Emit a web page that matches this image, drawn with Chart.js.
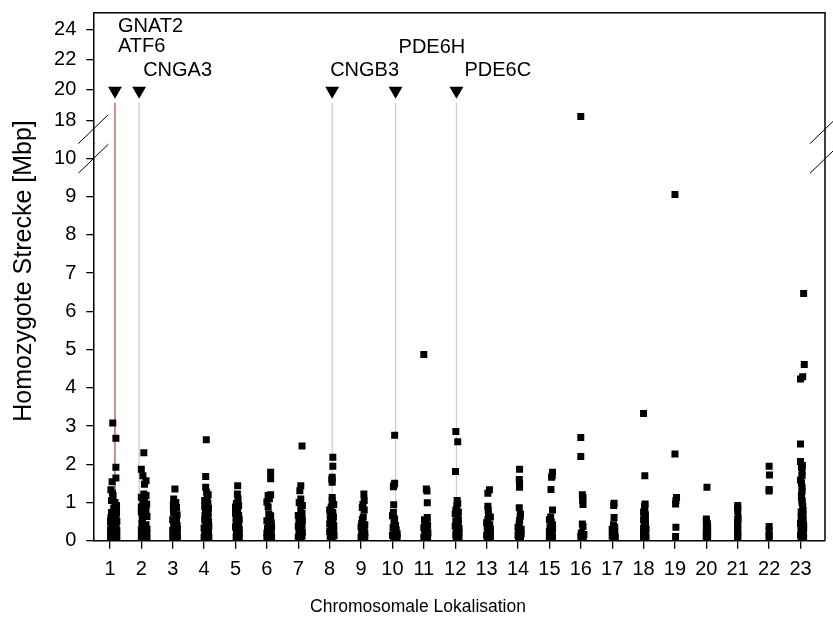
<!DOCTYPE html>
<html>
<head>
<meta charset="utf-8">
<title>Homozygote Strecken</title>
<script src="https://cdn.jsdelivr.net/npm/chart.js@4.4.1/dist/chart.umd.min.js"></script>
<style>
  html, body { margin: 0; padding: 0; background: #fff; }
</style>
</head>
<body>
<canvas id="chart" width="833" height="624"></canvas>
<script>
// chromosomes on the x axis (23 = X)
const chromosomes = [1, 2, 3, 4, 5, 6, 7, 8, 9, 10, 11, 12, 13, 14, 15, 16, 17, 18, 19, 20, 21, 22, 23];
const lowTicks = [0, 1, 2, 3, 4, 5, 6, 7, 8, 9, 10];
const highTicks = [18, 20, 22, 24];

// homozygous runs per chromosome: [jitter, length in Mbp]
const chr1 = [[0.09,3.08],[0.19,2.68],[0.19,1.92],[0.19,1.64],[0.07,1.54],[0.03,1.33],[0.08,1.25],[0.1,1.18],[0.16,1.0],[0.05,1.05],[0.21,0.92],[0.12,0.85],[0.05,0.74],[0.21,0.74],[0.14,0.68],[0.03,0.6],[0.2,0.62],[0.1,0.55],[0.02,0.5],[0.22,0.5],[0.12,0.44],[0.03,0.38],[0.2,0.38],[0.1,0.32],[0.02,0.27],[0.22,0.26],[0.12,0.2],[0.03,0.15],[0.2,0.14],[0.1,0.1],[0.02,0.09],[0.22,0.09]];
const chr2 = [[0.08,2.3],[0.0,1.87],[0.05,1.7],[0.15,1.57],[0.1,1.48],[0.15,1.18],[0.0,1.14],[0.08,1.22],[0.1,1.05],[0.05,0.96],[0.17,0.96],[0.0,0.88],[0.15,0.8],[0.0,0.75],[0.08,0.68],[0.18,0.63],[0.03,0.58],[0.02,0.45],[0.15,0.42],[0.08,0.35],[0.0,0.28],[0.18,0.3],[0.1,0.22],[0.02,0.16],[0.17,0.16],[0.1,0.1],[0.0,0.09],[0.18,0.09]];
const chr3 = [[0.07,1.35],[0.03,1.09],[0.1,1.0],[0.02,0.92],[0.12,0.87],[0.03,0.8],[0.03,0.74],[0.14,0.68],[0.1,0.6],[0.0,0.55],[0.12,0.5],[0.03,0.45],[0.14,0.4],[0.05,0.36],[0.15,0.3],[0.0,0.27],[0.1,0.22],[0.02,0.17],[0.14,0.15],[0.06,0.1],[0.0,0.09],[0.15,0.09]];
const chr4 = [[0.07,2.64],[0.05,1.68],[0.05,1.4],[0.08,1.27],[0.13,1.2],[0.1,1.1],[0.02,1.05],[0.12,0.97],[0.02,0.9],[0.14,0.85],[0.04,0.78],[0.13,0.72],[0.03,0.66],[0.12,0.6],[0.02,0.55],[0.14,0.5],[0.05,0.44],[0.15,0.38],[0.0,0.33],[0.1,0.29],[0.02,0.22],[0.14,0.2],[0.06,0.14],[0.15,0.1],[0.0,0.09],[0.08,0.09]];
const chr5 = [[0.07,1.44],[0.06,1.22],[0.08,1.1],[0.03,0.97],[0.1,0.92],[0.0,0.88],[0.07,0.8],[0.0,0.72],[0.1,0.66],[0.02,0.6],[0.12,0.55],[0.02,0.48],[0.1,0.42],[0.0,0.36],[0.12,0.3],[0.03,0.25],[0.12,0.19],[0.04,0.14],[0.12,0.09],[0.02,0.09]];
const chr6 = [[0.12,1.79],[0.12,1.62],[0.12,1.2],[0.04,1.18],[0.08,1.1],[0.0,1.01],[0.04,0.88],[0.06,0.7],[0.12,0.65],[0.1,0.58],[0.0,0.52],[0.14,0.47],[0.05,0.42],[0.15,0.36],[0.02,0.32],[0.1,0.26],[0.0,0.2],[0.14,0.18],[0.06,0.13],[0.15,0.09],[0.0,0.09]];
const chr7 = [[0.12,2.48],[0.08,1.44],[0.05,1.31],[0.08,1.09],[0.03,1.0],[0.13,0.92],[0.08,0.83],[0.12,0.72],[0.0,0.66],[0.05,0.6],[0.13,0.54],[0.02,0.48],[0.12,0.42],[0.0,0.38],[0.1,0.32],[0.02,0.26],[0.13,0.22],[0.04,0.16],[0.12,0.12],[0.0,0.09],[0.08,0.09]];
const chr8 = [[0.1,2.18],[0.1,1.95],[0.07,1.6],[0.08,1.66],[0.08,1.53],[0.08,1.13],[0.08,1.05],[0.13,0.95],[0.05,0.88],[0.0,0.8],[0.1,0.74],[0.02,0.68],[0.12,0.62],[0.02,0.56],[0.1,0.5],[0.0,0.44],[0.13,0.4],[0.05,0.34],[0.13,0.28],[0.0,0.24],[0.08,0.18],[0.14,0.13],[0.02,0.11],[0.08,0.09]];
const chr9 = [[0.09,1.22],[0.1,1.05],[0.06,0.95],[0.04,0.87],[0.1,0.8],[0.07,0.62],[0.04,0.55],[0.02,0.45],[0.12,0.42],[0.0,0.36],[0.1,0.3],[0.02,0.25],[0.12,0.2],[0.05,0.15],[0.12,0.1],[0.0,0.09]];
const chr10 = [[0.07,2.76],[0.07,1.5],[0.05,1.46],[0.03,1.41],[0.04,0.94],[0.03,0.74],[0.0,0.65],[0.07,0.57],[0.05,0.5],[0.1,0.4],[0.02,0.34],[0.12,0.28],[0.05,0.23],[0.15,0.18],[0.0,0.14],[0.1,0.1],[0.04,0.09],[0.15,0.09]];
const chr11 = [[0.0,4.87],[0.08,1.35],[0.1,1.3],[0.11,0.99],[0.11,0.61],[0.02,0.55],[0.1,0.5],[0.03,0.45],[0.12,0.4],[0.0,0.34],[0.1,0.3],[0.03,0.24],[0.13,0.2],[0.05,0.15],[0.0,0.09],[0.12,0.09]];
const chr12 = [[0.02,2.86],[0.08,2.59],[0.01,1.81],[0.06,1.05],[0.08,0.98],[0.05,0.9],[0.02,0.8],[0.1,0.75],[0.0,0.7],[0.08,0.62],[0.1,0.55],[0.02,0.5],[0.1,0.44],[0.0,0.38],[0.12,0.32],[0.04,0.27],[0.12,0.22],[0.02,0.17],[0.1,0.12],[0.03,0.09],[0.12,0.09]];
const chr13 = [[0.09,1.33],[0.04,1.24],[0.04,0.9],[0.05,0.8],[0.06,0.7],[0.12,0.62],[0.04,0.55],[0.0,0.47],[0.1,0.42],[0.02,0.36],[0.12,0.3],[0.04,0.25],[0.12,0.2],[0.0,0.15],[0.08,0.11],[0.02,0.09],[0.12,0.09]];
const chr14 = [[0.05,1.87],[0.04,1.6],[0.05,1.5],[0.05,1.4],[0.04,0.86],[0.08,0.7],[0.07,0.64],[0.05,0.53],[0.04,0.45],[0.0,0.35],[0.1,0.3],[0.02,0.24],[0.1,0.18],[0.0,0.14],[0.08,0.1],[0.02,0.09]];
const chr15 = [[0.1,1.79],[0.09,1.7],[0.07,1.66],[0.05,1.34],[0.1,0.8],[0.04,0.62],[0.0,0.55],[0.06,0.48],[0.1,0.42],[0.02,0.36],[0.1,0.3],[0.0,0.25],[0.08,0.2],[0.02,0.15],[0.1,0.1],[0.0,0.09]];
const chr16 = [[0.0,18.25],[0.0,2.7],[0.0,2.2],[0.07,1.13],[0.05,1.2],[0.06,1.05],[0.07,0.95],[0.05,0.44],[0.07,0.37],[0.02,0.2],[0.1,0.16],[0.0,0.12],[0.08,0.09],[0.02,0.09]];
const chr17 = [[0.06,0.98],[0.05,0.92],[0.06,0.61],[0.04,0.42],[0.08,0.35],[0.0,0.3],[0.08,0.25],[0.02,0.2],[0.08,0.15],[0.0,0.12],[0.1,0.09],[0.04,0.09]];
const chr18 = [[0.0,3.33],[0.04,1.7],[0.05,0.96],[0.03,0.9],[0.04,0.85],[0.0,0.75],[0.06,0.68],[0.02,0.62],[0.0,0.55],[0.06,0.5],[0.02,0.45],[0.06,0.38],[0.0,0.32],[0.08,0.3],[0.0,0.22],[0.06,0.18],[0.02,0.13],[0.08,0.09],[0.0,0.09]];
const chr19 = [[0.0,9.06],[0.0,2.27],[0.05,1.13],[0.03,1.05],[0.02,0.96],[0.03,0.35],[0.02,0.11]];
const chr20 = [[0.02,1.4],[0.0,0.57],[0.0,0.5],[0.03,0.45],[0.04,0.38],[0.0,0.33],[0.04,0.28],[0.0,0.22],[0.04,0.17],[0.0,0.13],[0.04,0.09],[0.0,0.09]];
const chr21 = [[0.0,0.92],[0.0,0.86],[0.0,0.79],[0.01,0.61],[0.0,0.55],[0.0,0.46],[0.0,0.39],[0.0,0.3],[0.0,0.2],[0.0,0.12],[0.0,0.09]];
const chr22 = [[0.0,1.95],[0.01,1.72],[0.0,1.34],[0.0,1.3],[0.0,0.37],[0.0,0.27],[0.0,0.14],[0.0,0.09]];
const chr23 = [[0.1,6.47],[0.12,4.61],[0.07,4.29],[0.0,4.23],[0.0,2.53],[0.0,2.07],[0.06,1.97],[0.03,1.92],[0.05,1.79],[0.05,1.7],[0.0,1.59],[0.03,1.5],[0.05,1.4],[0.05,1.3],[0.03,1.2],[0.03,1.13],[0.05,1.05],[0.05,1.0],[0.07,0.9],[0.08,0.8],[0.02,0.75],[0.08,0.68],[0.02,0.6],[0.08,0.55],[0.08,0.5],[0.0,0.45],[0.1,0.4],[0.02,0.35],[0.1,0.3],[0.02,0.25],[0.08,0.2],[0.0,0.15],[0.08,0.12],[0.02,0.09],[0.1,0.09]];

// candidate genes and where they sit
const geneNames = ["GNAT2", "ATF6", "CNGA3", "CNGB3", "PDE6H", "PDE6C"];
const genePos = [1.16, 1.16, 1.93, 8.08, 10.1, 12.04];
const markerSites = [1.16, 1.93, 8.08, 10.1, 12.04];

// broken axis: lower part 0..LOW_MAX, upper part HIGH_MIN..HIGH_MAX
const LOW_MAX = 10.38;
const HIGH_MIN = 16.44;
const HIGH_MAX = 25.09;
const MARKER_Y = 19.95;
const MARKER_LINE_TOP = 19.15;

// label placement next to the markers (pixel shift, upper-axis value)
const geneLabelLayout = [
  { dx: 3, y: 24.15 }, { dx: 3, y: 22.84 }, { dx: 4, y: 21.25 },
  { dx: -2, y: 21.25 }, { dx: 3, y: 22.8 }, { dx: 8, y: 21.25 }
];

const FONT = "'Liberation Sans', Arial, sans-serif";

const stripData = [chr1, chr2, chr3, chr4, chr5, chr6, chr7, chr8, chr9, chr10, chr11, chr12,
  chr13, chr14, chr15, chr16, chr17, chr18, chr19, chr20, chr21, chr22, chr23];

let lowPoints = [];
let highPoints = [];
stripData.forEach((pts, i) => {
  pts.forEach((p) => {
    let pt = { x: chromosomes[i] + p[0], y: p[1] };
    if (p[1] > LOW_MAX) highPoints.push(pt);
    else lowPoints.push(pt);
  });
});

function siteLine(sites, y0, y1) {
  let data = [];
  sites.forEach((s) => {
    data.push({ x: s, y: y0 }, { x: s, y: y1 }, { x: s, y: null });
  });
  return data;
}

const redSite = [markerSites[0]];
const graySites = markerSites.slice(1);
const lineStyle = { showLine: true, pointRadius: 0, borderWidth: 1.3, spanGaps: false, fill: false };

const pointStyle = {
  pointStyle: "rect",
  pointRadius: 4.95,
  pointHoverRadius: 4.95,
  backgroundColor: "#000",
  borderWidth: 0,
};

// frame, axis break marks, gene names and axis titles
const decorations = {
  id: "decorations",
  afterDraw(chart) {
    const ctx = chart.ctx;
    const area = chart.chartArea;
    const x = chart.scales.x;
    const y2 = chart.scales.y2;
    const split = chart.scales.y.top;
    ctx.save();

    ctx.strokeStyle = "#000";
    ctx.lineWidth = 1.5;
    ctx.beginPath();
    ctx.moveTo(area.left, area.top);
    ctx.lineTo(area.right, area.top);
    ctx.lineTo(area.right, area.bottom);
    ctx.stroke();

    ctx.lineWidth = 1;
    [area.left, area.right].forEach((ax) => {
      [-14.8, 14.8].forEach((dy) => {
        ctx.beginPath();
        ctx.moveTo(ax - 15, split + dy + 14.5);
        ctx.lineTo(ax + 15, split + dy - 14.5);
        ctx.stroke();
      });
    });

    ctx.fillStyle = "#000";
    ctx.font = "20px " + FONT;
    ctx.textAlign = "left";
    ctx.textBaseline = "middle";
    geneNames.forEach((name, i) => {
      const l = geneLabelLayout[i];
      ctx.fillText(name, x.getPixelForValue(genePos[i]) + l.dx, y2.getPixelForValue(l.y));
    });

    ctx.textAlign = "center";
    ctx.font = "17.5px " + FONT;
    ctx.fillText("Chromosomale Lokalisation", 418, 607);

    ctx.translate(24, 271);
    ctx.rotate(-Math.PI / 2);
    ctx.font = "25px " + FONT;
    ctx.fillText("Homozygote Strecke [Mbp]", 0, 0);
    ctx.restore();
  },
};

const tickFont = { family: FONT, size: 20 };

// y axes keep a fixed width and no extra label padding, so the plot frame stays put
function fitLeftAxis(s) {
  s.width = 93.3;
  s.paddingTop = 0;
  s.paddingBottom = 0;
}

let ctx = document.getElementById("chart");
let chart = new Chart(ctx, {
  type: "scatter",
  data: {
    datasets: [
      Object.assign({ data: lowPoints, yAxisID: "y" }, pointStyle),
      Object.assign({ data: highPoints, yAxisID: "y2" }, pointStyle),
      {
        data: markerSites.map((s) => ({ x: s, y: MARKER_Y })),
        yAxisID: "y2",
        pointStyle: "triangle",
        rotation: 180,
        pointRadius: 8,
        pointHoverRadius: 8,
        backgroundColor: "#000",
        borderWidth: 0,
      },
      Object.assign({ data: siteLine(redSite, 0, LOW_MAX), yAxisID: "y", borderColor: "#b85050" }, lineStyle),
      Object.assign({ data: siteLine(redSite, HIGH_MIN, MARKER_LINE_TOP), yAxisID: "y2", borderColor: "#b85050" }, lineStyle),
      Object.assign({ data: siteLine(graySites, 0, LOW_MAX), yAxisID: "y", borderColor: "#cccccc" }, lineStyle),
      Object.assign({ data: siteLine(graySites, HIGH_MIN, MARKER_LINE_TOP), yAxisID: "y2", borderColor: "#cccccc" }, lineStyle),
    ],
  },
  options: {
    responsive: false,
    animation: false,
    events: [],
    layout: { padding: { top: 12.7, right: 5.7, left: 0, bottom: 0 } },
    plugins: {
      legend: { display: false },
      tooltip: { enabled: false },
    },
    scales: {
      x: {
        type: "linear",
        min: 0.47,
        max: 23.78,
        afterBuildTicks: (s) => { s.ticks = chromosomes.map((v) => ({ value: v })); },
        afterFit: (s) => { s.height = 83.3; },
        border: { color: "#000", width: 1.5 },
        grid: { drawOnChartArea: false, tickLength: 8, color: "#000", lineWidth: 1.3 },
        ticks: { font: tickFont, color: "#000", padding: 9, autoSkip: false, maxRotation: 0 },
      },
      y: {
        type: "linear",
        position: "left",
        stack: "left",
        stackWeight: 396,
        min: 0,
        max: LOW_MAX,
        afterBuildTicks: (s) => { s.ticks = lowTicks.map((v) => ({ value: v })); },
        afterFit: fitLeftAxis,
        border: { color: "#000", width: 1.5 },
        grid: { drawOnChartArea: false, tickLength: 7, color: "#000", lineWidth: 1.3 },
        ticks: { font: tickFont, color: "#000", padding: 10, autoSkip: false },
      },
      y2: {
        type: "linear",
        position: "left",
        stack: "left",
        stackWeight: 131,
        min: HIGH_MIN,
        max: HIGH_MAX,
        afterBuildTicks: (s) => { s.ticks = highTicks.map((v) => ({ value: v })); },
        afterFit: fitLeftAxis,
        border: { color: "#000", width: 1.5 },
        grid: { drawOnChartArea: false, tickLength: 7, color: "#000", lineWidth: 1.3 },
        ticks: { font: tickFont, color: "#000", padding: 10, autoSkip: false },
      },
    },
  },
  plugins: [decorations],
});
</script>
</body>
</html>
